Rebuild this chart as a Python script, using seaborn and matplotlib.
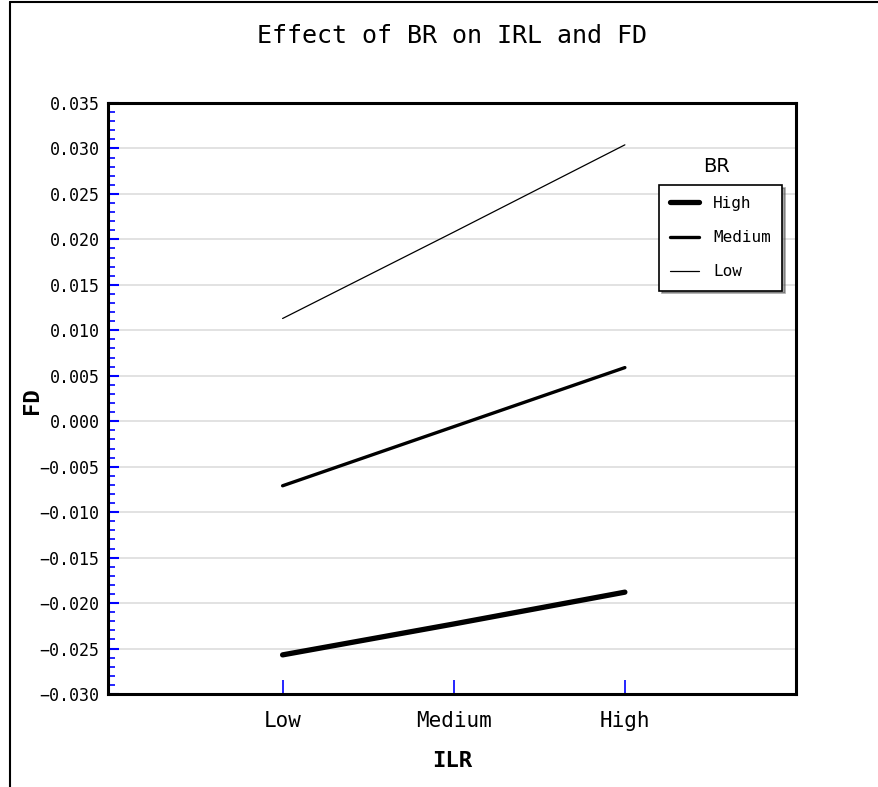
import numpy as np
import pandas as pd
import seaborn as sns
import matplotlib.pyplot as plt
from matplotlib.lines import Line2D
from matplotlib.ticker import MultipleLocator

# values
ilr_levels = ["Low", "Medium", "High"]
br_levels = ["High", "Medium", "Low"]
fd_high = [-0.0257, -0.0223, -0.0188]
fd_medium = [-0.0071, -0.0006, 0.0059]
fd_low = [0.0113, 0.0208, 0.0304]

df = pd.DataFrame({
    "ILR": ilr_levels * 3,
    "BR": np.repeat(br_levels, 3),
    "FD": fd_high + fd_medium + fd_low,
})

sns.set_style("white")
plt.rcParams['font.family'] = ['DejaVu Sans Mono', 'DejaVu Sans']
plt.rcParams['text.color'] = 'black'
plt.rcParams['axes.labelcolor'] = 'black'
plt.rcParams['xtick.labelcolor'] = 'black'
plt.rcParams['ytick.labelcolor'] = 'black'

fig = plt.figure(figsize=(8.79, 7.87), dpi=100)
ax = fig.add_axes([0.1229, 0.1182, 0.7827, 0.7509])

sns.lineplot(data=df, x="ILR", y="FD", hue="BR", size="BR",
             hue_order=br_levels, size_order=br_levels,
             palette={"High": "black", "Medium": "black", "Low": "black"},
             sizes={"High": 3.8, "Medium": 2.4, "Low": 0.9},
             sort=False, ax=ax, legend=False)

ax.set_xlim(-1.02, 3.0)
ax.set_ylim(-0.030, 0.035)
ax.set_xticks(range(3))
ax.set_xticklabels(ilr_levels, fontsize=15)
ax.yaxis.set_major_locator(MultipleLocator(0.005))
ax.yaxis.set_minor_locator(MultipleLocator(0.001))
ax.set_yticklabels([f"{v:.3f}".replace("-", "\u2212") if v < -1e-9 else f"{abs(v):.3f}"
                    for v in ax.get_yticks()], fontsize=12)
ax.set_ylim(-0.030, 0.035)

ax.tick_params(axis='x', which='major', direction='in', length=10, width=1.2,
               color='blue', pad=12, bottom=True)
ax.tick_params(axis='y', which='major', direction='in', length=8, width=1.5,
               color='blue', pad=6, left=True)
ax.tick_params(axis='y', which='minor', direction='in', length=5, width=1.2,
               color='blue', left=True)

ax.yaxis.grid(True, color='#dddddd', linewidth=1.2)
ax.xaxis.grid(False)
ax.set_axisbelow(True)
for s in ax.spines.values():
    s.set_color('black')
    s.set_linewidth(2.2)

ax.set_xlabel("ILR", fontsize=16, fontweight='bold', labelpad=15)
ax.set_ylabel("FD", fontsize=16, fontweight='bold')
ax.yaxis.set_label_coords(-0.096, 0.497)
ax.set_title("Effect of BR on IRL and FD", fontsize=18, pad=43)

handles = [Line2D([], [], color='black', lw=w) for w in (3.8, 2.4, 0.9)]
leg = ax.legend(handles, br_levels, loc='upper left', bbox_to_anchor=(0.789, 0.875),
                fontsize=11.5, frameon=True, shadow=True, fancybox=False,
                handlelength=1.8, labelspacing=1.2, borderpad=0.7, handletextpad=0.9)
leg.get_frame().set_edgecolor('black')
leg.get_frame().set_linewidth(1.2)
ax.text(0.884, 0.876, "BR", transform=ax.transAxes, ha='center', va='bottom',
        fontsize=14, family='DejaVu Sans')

# outer frame of the original graphic
fig.add_artist(Line2D([10 / 879, 10 / 879], [0, 1 - 2 / 787], color='black', lw=1.5))
fig.add_artist(Line2D([10 / 879, 1], [1 - 2 / 787, 1 - 2 / 787], color='black', lw=1.5))

fig.savefig("out.png", dpi=100)
